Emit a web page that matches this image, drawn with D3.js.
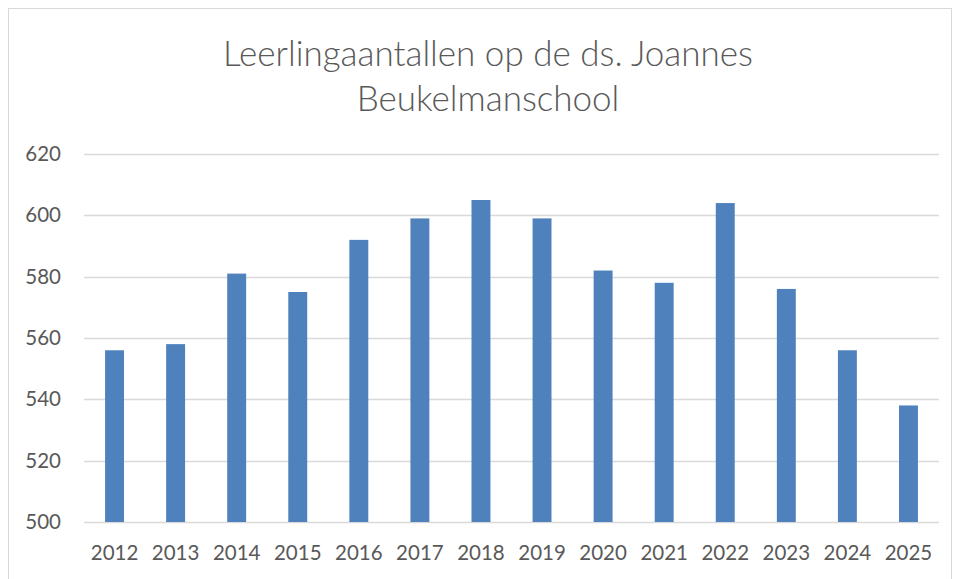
<!DOCTYPE html>
<html>
<head>
<meta charset="utf-8">
<script src="https://cdn.jsdelivr.net/npm/d3@7"></script>
<style>
  body { margin: 0; background: #fff; }
  text { font-family: Lato, "Open Sans", sans-serif; fill: #595959; }
</style>
</head>
<body>
<script>
//// Data ////
const years = ["2012", "2013", "2014", "2015", "2016", "2017", "2018", "2019", "2020", "2021", "2022", "2023", "2024", "2025"]
const pupils = [556, 558, 581, 575, 592, 599, 605, 599, 582, 578, 604, 576, 556, 538]
const yTicks = [500, 520, 540, 560, 580, 600, 620]
const titleLines = ["Leerlingaantallen op de ds. Joannes", "Beukelmanschool"]

//// Layout ////
const WIDTH = 958
const HEIGHT = 579
const plot = { left: 84, right: 939, top: 154, bottom: 522 }

const svg = d3.select("body").append("svg")
  .attr("width", WIDTH)
  .attr("height", HEIGHT)

// chart border
svg.append("rect")
  .attr("x", 8.5).attr("y", 8.5)
  .attr("width", 943).attr("height", 600)
  .attr("fill", "none")
  .attr("stroke", "#d9d9d9")

const x = d3.scaleBand()
  .domain(years)
  .range([plot.left, plot.right])
  .paddingInner(0.69)
  .paddingOuter(0.345)

const y = d3.scaleLinear()
  .domain([500, 620])
  .range([plot.bottom, plot.top])

// gridlines
svg.append("g")
  .selectAll("line")
  .data(yTicks)
  .join("line")
  .attr("x1", plot.left).attr("x2", plot.right)
  .attr("y1", d => Math.round(y(d)) + 0.5)
  .attr("y2", d => Math.round(y(d)) + 0.5)
  .attr("stroke", "#d9d9d9")
  .attr("stroke-width", 1.3)

// bars
svg.append("g")
  .selectAll("rect")
  .data(pupils)
  .join("rect")
  .attr("x", (d, i) => x(years[i]))
  .attr("width", x.bandwidth())
  .attr("y", d => y(d))
  .attr("height", d => y(500) - y(d))
  .attr("fill", "#4f81bd")

// y axis labels
const yAxis = svg.append("g")
  .attr("transform", `translate(${plot.left - 23},0)`)
  .call(d3.axisLeft(y).tickValues(yTicks).tickSize(0).tickPadding(0))
yAxis.select(".domain").remove()
yAxis.selectAll("text")
  .style("font-size", "20.5px")
  .attr("fill", "#595959")

// x axis labels
const xAxis = svg.append("g")
  .attr("transform", `translate(0,${plot.bottom})`)
  .call(d3.axisBottom(x).tickSize(0).tickPadding(23))
xAxis.select(".domain").remove()
xAxis.selectAll("text")
  .style("font-size", "20.5px")
  .attr("fill", "#595959")

// title
svg.append("g")
  .selectAll("text")
  .data(titleLines)
  .join("text")
  .attr("x", 488)
  .attr("y", (d, i) => 66 + i * 45)
  .attr("text-anchor", "middle")
  .style("font-size", "35px")
  .style("font-weight", 300)
  .text(d => d)
</script>
</body>
</html>
